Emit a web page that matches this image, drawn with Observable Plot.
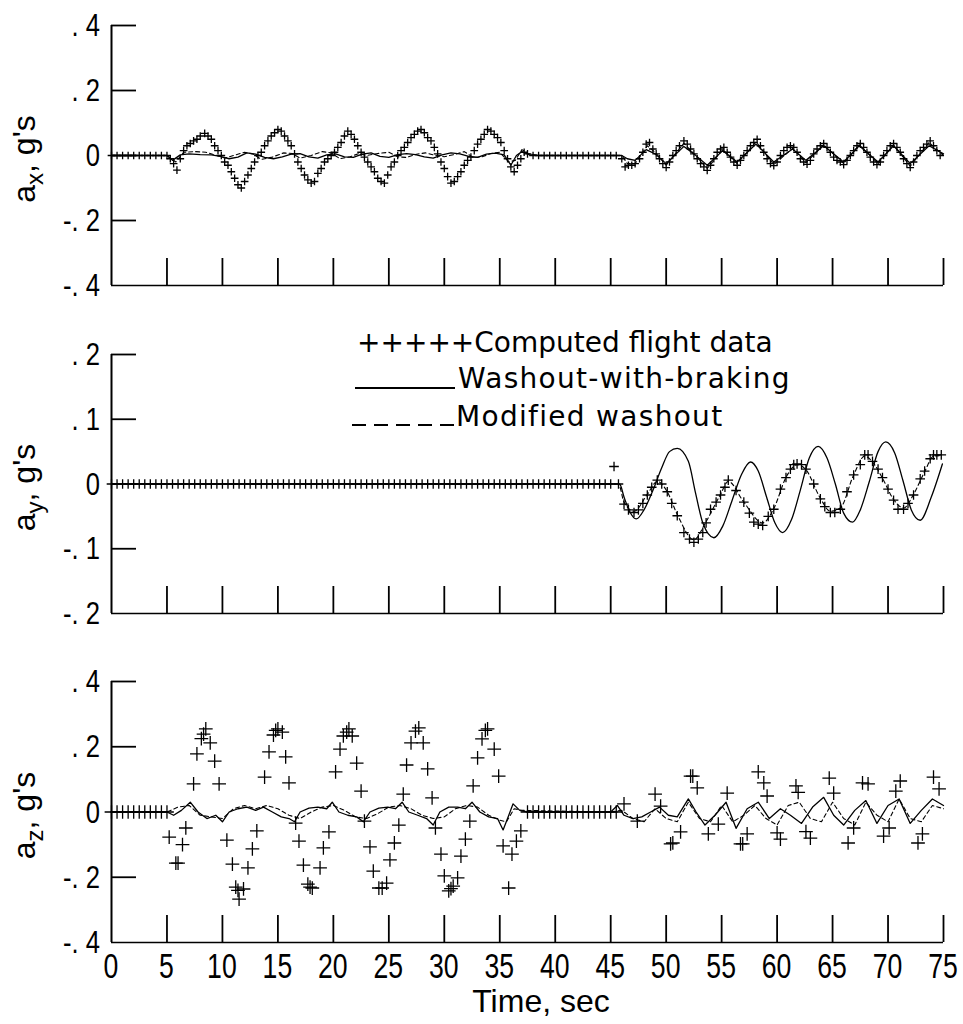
<!DOCTYPE html>
<html><head><meta charset="utf-8">
<script src="https://cdn.jsdelivr.net/npm/d3@7"></script>
<script src="https://cdn.jsdelivr.net/npm/@observablehq/plot@0.6"></script>
<style>
body{margin:0;background:#fff;}
#wrap{position:relative;width:963px;height:1024px;overflow:hidden;}
#wrap > svg{position:absolute;left:0;}
</style></head><body><div id="wrap"></div>
<script>
// ---------- axis / label data ----------
const timeTicks = [0,5,10,15,20,25,30,35,40,45,50,55,60,65,70,75];
const axTicks = [-0.4,-0.2,0,0.2,0.4];
const axTickLabels = ["-. 4","-. 2","0",". 2",". 4"];
const ayTicks = [-0.2,-0.1,0,0.1,0.2];
const ayTickLabels = ["-. 2","-. 1","0",". 1",". 2"];
const azTicks = [-0.4,-0.2,0,0.2,0.4];
const azTickLabels = ["-. 4","-. 2","0",". 2",". 4"];
const yLabelParts = [["a","x",", g's"],["a","y",", g's"],["a","z",", g's"]];
const xLabel = "Time, sec";
const legendLabels = ["+++++Computed flight data","Washout-with-braking","Modified washout"];

// ---------- a_x series [time, g] ----------
const axComputed = [[0,0],[0.5,0],[1,0],[1.5,0],[2,0],[2.5,0],[3,0],[3.5,0],[4,0],[4.5,0],[5,0],
[5.3,-0.01],[5.6,-0.025],[5.9,-0.045],[6.2,-0.01],[6.5,0.015],[6.8,0.03],[7.1,0.037],[7.4,0.045],[7.7,0.05],[8,0.06],[8.4,0.068],[8.7,0.06],[9,0.05],[9.3,0.03],[9.6,0.015],[9.9,0],[10.2,-0.02],[10.5,-0.03],[10.8,-0.05],[11.1,-0.07],[11.4,-0.09],[11.7,-0.1],[12,-0.08],[12.3,-0.06],[12.6,-0.04],[12.9,-0.02],[13.2,0],[13.5,0.01],[13.8,0.03],[14.1,0.045],[14.4,0.06],[14.7,0.07],[15,0.08],[15.3,0.075],[15.6,0.06],[15.9,0.045],[16.2,0.03],[16.5,0.005],[16.8,-0.02],[17.1,-0.04],[17.4,-0.06],[17.7,-0.075],[18,-0.085],[18.3,-0.08],[18.6,-0.055],[18.9,-0.04],[19.2,-0.02],[19.5,-0.01],[19.8,0],[20.1,0.01],[20.4,0.025],[20.7,0.04],[21,0.06],[21.3,0.075],[21.6,0.065],[21.9,0.05],[22.2,0.03],[22.5,0.01],[22.8,-0.005],[23.1,-0.02],[23.4,-0.035],[23.7,-0.05],[24,-0.07],[24.3,-0.08],[24.6,-0.085],[24.9,-0.06],[25.2,-0.035],[25.5,-0.02],[25.8,0],[26.1,0.015],[26.4,0.025],[26.7,0.04],[27,0.055],[27.3,0.065],[27.6,0.075],[27.9,0.08],[28.2,0.07],[28.5,0.055],[28.8,0.045],[29.1,0.025],[29.4,0.005],[29.7,-0.02],[30,-0.04],[30.3,-0.065],[30.6,-0.085],[30.9,-0.08],[31.2,-0.065],[31.5,-0.05],[31.8,-0.03],[32.1,-0.015],[32.4,-0.005],[32.7,0.015],[33,0.035],[33.3,0.05],[33.6,0.065],[33.9,0.08],[34.2,0.075],[34.5,0.065],[34.8,0.055],[35.1,0.04],[35.4,0.015],[35.7,-0.01],[36,-0.035],[36.3,-0.05],[36.6,-0.03],[36.9,-0.01],[37.2,0.01],[37.5,0.005],
[38,0],[38.5,0],[39,0],[39.5,0],[40,0],[40.5,0],[41,0],[41.5,0],[42,0],[42.5,0],[43,0],[43.5,0],[44,0],[44.5,0],[45,0],[45.5,0],
[46,-0.01],[46.3,-0.035],[46.6,-0.03],[46.9,-0.03],[47.2,-0.025],[47.6,-0.01],[47.9,0.01],[48.2,0.035],[48.5,0.04],[48.8,0.02],[49.1,0.005],[49.4,-0.01],[49.7,-0.025],[50,-0.037],[50.3,-0.02],[50.6,0],[50.9,0.015],[51.2,0.03],[51.6,0.045],[51.9,0.035],[52.2,0.02],[52.5,0.005],[52.8,-0.01],[53.1,-0.025],[53.4,-0.035],[53.7,-0.046],[54,-0.03],[54.3,-0.01],[54.6,0.01],[54.9,0.02],[55.2,0.025],[55.5,0.01],[55.8,-0.005],[56.1,-0.02],[56.4,-0.03],[56.7,-0.015],[57,0],[57.3,0.015],[57.6,0.03],[57.9,0.04],[58.2,0.05],[58.5,0.03],[58.8,0.01],[59.1,-0.01],[59.4,-0.025],[59.7,-0.031],[60,-0.02],[60.3,0],[60.6,0.015],[60.9,0.025],[61.2,0.03],[61.5,0.025],[61.8,0.01],[62.1,-0.01],[62.4,-0.02],[62.7,-0.027],[63,-0.015],[63.3,0.005],[63.6,0.02],[63.9,0.03],[64.2,0.037],[64.5,0.025],[64.8,0.01],[65.1,-0.005],[65.4,-0.015],[65.7,-0.02],[66,-0.028],[66.3,-0.015],[66.6,0],[66.9,0.015],[67.2,0.03],[67.5,0.037],[67.8,0.025],[68.1,0.01],[68.4,-0.005],[68.7,-0.02],[69,-0.028],[69.3,-0.02],[69.6,0],[69.9,0.015],[70.2,0.03],[70.5,0.037],[70.8,0.025],[71.1,0.01],[71.4,-0.01],[71.7,-0.025],[72,-0.037],[72.3,-0.02],[72.6,0],[72.9,0.015],[73.2,0.025],[73.5,0.035],[73.8,0.045],[74.1,0.03],[74.4,0.015],[74.7,0]];
const axBraking = [[0,0],[5,0],[5.5,-0.015],[6.2,0.002],[7,0.005],[8,0.003],[9,0.002],[9.8,-0.003],[10.6,-0.01],[11.4,-0.005],[12.2,0.008],[13,0.004],[13.8,-0.006],[14.6,-0.01],[15.4,-0.004],[16.2,0.004],[17,0.006],[17.8,-0.004],[18.6,-0.008],[19.4,0.002],[20.2,0.005],[21,-0.004],[21.8,-0.006],[22.6,0.004],[23.4,0.008],[24.2,-0.003],[25,-0.006],[25.8,0.003],[26.6,0.006],[27.4,0.003],[28.2,-0.004],[29,-0.008],[29.8,0.002],[30.6,0.008],[31.4,0.005],[32.2,-0.003],[33,-0.006],[33.8,0.004],[34.6,0.007],[35.4,0.002],[36,-0.03],[36.5,0],[37,0.012],[37.6,0.003],[38.5,0],[46,0],[46.5,-0.01],[47.2,-0.015],[48.2,0.018],[49,0.005],[50,-0.025],[51.6,0.028],[52.5,0.005],[53.7,-0.03],[55.1,0.015],[56.4,-0.02],[58.1,0.035],[59.7,-0.02],[61.4,0.02],[62.6,-0.015],[64.2,0.03],[66,-0.02],[67.4,0.03],[69.1,-0.02],[70.5,0.03],[72,-0.025],[73.7,0.03],[75,0.005]];
const axModified = [[0,0],[5,0],[5.8,-0.02],[6.5,0.01],[7.5,0.012],[8.5,0.01],[9.5,0],[10.2,-0.008],[11,0],[12,0.01],[12.8,0.004],[13.5,-0.012],[14.5,-0.005],[15.5,0.008],[16.3,0.006],[17,-0.008],[18,0],[19,0.012],[19.8,0.008],[20.6,-0.01],[21.5,-0.004],[22.3,0.006],[23,0],[24,0.006],[25,0.01],[25.8,-0.004],[26.6,-0.006],[27.5,0.004],[28.3,0.008],[29,0.002],[30,-0.004],[31,0.004],[31.8,0.012],[32.6,-0.006],[33.4,-0.004],[34.2,0.006],[35,0.01],[35.8,-0.02],[36.4,-0.015],[37,0.018],[37.6,0.005],[38.5,0],[46,0],[46.5,-0.025],[47.2,-0.025],[48.3,0.03],[49,0.01],[50,-0.03],[51.6,0.038],[52.5,0.005],[53.7,-0.04],[55.1,0.018],[56.4,-0.025],[58.1,0.042],[59.7,-0.028],[61.4,0.022],[62.6,-0.022],[64.2,0.033],[66,-0.025],[67.4,0.033],[69.1,-0.025],[70.5,0.033],[72,-0.033],[73.7,0.04],[75,0]];

// ---------- a_y series ----------
const ayComputed = [[0,0],[0.5,0],[1,0],[1.5,0],[2,0],[2.5,0],[3,0],[3.5,0],[4,0],[4.5,0],[5,0],[5.5,0],[6,0],[6.5,0],[7,0],[7.5,0],[8,0],[8.5,0],[9,0],[9.5,0],[10,0],[10.5,0],[11,0],[11.5,0],[12,0],[12.5,0],[13,0],[13.5,0],[14,0],[14.5,0],[15,0],[15.5,0],[16,0],[16.5,0],[17,0],[17.5,0],[18,0],[18.5,0],[19,0],[19.5,0],[20,0],[20.5,0],[21,0],[21.5,0],[22,0],[22.5,0],[23,0],[23.5,0],[24,0],[24.5,0],[25,0],[25.5,0],[26,0],[26.5,0],[27,0],[27.5,0],[28,0],[28.5,0],[29,0],[29.5,0],[30,0],[30.5,0],[31,0],[31.5,0],[32,0],[32.5,0],[33,0],[33.5,0],[34,0],[34.5,0],[35,0],[35.5,0],[36,0],[36.5,0],[37,0],[37.5,0],[38,0],[38.5,0],[39,0],[39.5,0],[40,0],[40.5,0],[41,0],[41.5,0],[42,0],[42.5,0],[43,0],[43.5,0],[44,0],[44.5,0],[45,0],
[45.3,0.027],[45.7,0],[46.2,-0.031],[46.6,-0.04],[47.1,-0.044],[47.5,-0.04],[47.9,-0.03],[48.3,-0.017],[48.7,-0.005],[49.2,0.006],[49.6,0],[50.1,-0.012],[50.5,-0.03],[51,-0.049],[51.6,-0.075],[52.1,-0.085],[52.5,-0.09],[52.9,-0.085],[53.3,-0.075],[53.6,-0.06],[54,-0.039],[54.5,-0.028],[54.9,-0.017],[55.3,-0.005],[55.6,0.006],[56.3,-0.01],[57,-0.028],[57.5,-0.045],[57.9,-0.059],[58.3,-0.062],[58.7,-0.064],[59.2,-0.05],[59.7,-0.039],[60.3,-0.008],[60.8,0.01],[61.2,0.023],[61.5,0.03],[61.8,0.031],[62.2,0.03],[62.6,0.023],[63.3,0],[63.9,-0.023],[64.3,-0.035],[64.8,-0.044],[65.2,-0.044],[65.7,-0.039],[66.3,-0.012],[66.9,0.014],[67.5,0.03],[67.9,0.045],[68.2,0.045],[68.6,0.035],[69.1,0.023],[69.5,0.01],[70,-0.008],[70.5,-0.025],[70.9,-0.039],[71.4,-0.039],[71.8,-0.03],[72.3,-0.017],[72.9,0.008],[73.3,0.02],[73.8,0.039],[74.1,0.045],[74.4,0.045],[74.8,0.045]];
const ayBraking = [[0,0],[45.8,0],[46.2,-0.02],[46.7,-0.042],[47.3,-0.054],[48,-0.04],[48.8,-0.01],[49.6,0.025],[50.3,0.05],[51,0.055],[52,0.035],[52.65,-0.014],[53.3,-0.06],[54.3,-0.083],[55.1,-0.065],[55.95,-0.025],[56.8,0.015],[57.6,0.034],[58.3,0.02],[59.05,-0.02],[59.8,-0.06],[60.5,-0.075],[61.3,-0.055],[62.1,-0.009],[62.9,0.04],[63.7,0.058],[64.5,0.04],[65.25,0],[66,-0.045],[66.8,-0.059],[67.5,-0.04],[68.3,0.003],[69.1,0.05],[69.8,0.065],[70.6,0.048],[71.35,0.005],[72.1,-0.04],[72.9,-0.056],[73.9,-0.02],[74.9,0.031]];
const ayModified = [[0,0],[45.7,0],[46.2,-0.028],[47.1,-0.042],[48.3,-0.016],[49.2,0.004],[50.1,-0.012],[51,-0.047],[52.5,-0.086],[53.6,-0.058],[54.9,-0.016],[55.6,0.004],[57,-0.028],[58.7,-0.06],[59.7,-0.038],[60.8,0.01],[61.8,0.03],[62.6,0.022],[63.9,-0.022],[64.8,-0.042],[65.7,-0.037],[66.9,0.014],[67.9,0.043],[68.6,0.034],[69.5,0.009],[70.5,-0.024],[71.4,-0.037],[72.3,-0.016],[73.3,0.019],[74.1,0.043],[74.8,0.044]];

// ---------- a_z series ----------
const azComputed = [[0,0],[0.5,0],[1,0],[1.5,0],[2,0],[2.5,0],[3,0],[3.5,0],[4,0],[4.5,0],[5,0],
[5.2,-0.077],[5.8,-0.157],[6,-0.157],[6.4,-0.1],[6.7,-0.049],[7.4,0.086],[7.7,0.178],[8.1,0.225],[8.3,0.239],[8.5,0.255],[8.9,0.212],[9.3,0.156],[9.7,0.086],[10.4,-0.086],[10.9,-0.16],[11.2,-0.23],[11.4,-0.24],[11.5,-0.267],[11.9,-0.236],[12.3,-0.171],[12.7,-0.113],[13.1,-0.058],[13.8,0.107],[14.2,0.184],[14.6,0.236],[14.8,0.25],[15,0.255],[15.4,0.245],[15.7,0.169],[16,0.089],[16.6,-0.034],[16.9,-0.089],[17.3,-0.163],[17.7,-0.221],[17.9,-0.23],[18.1,-0.233],[18.8,-0.171],[19.1,-0.11],[19.6,-0.061],[20.2,0.123],[20.6,0.193],[20.9,0.233],[21.2,0.245],[21.4,0.255],[21.7,0.233],[22.1,0.15],[22.5,0.064],[22.8,-0.028],[23.3,-0.107],[23.6,-0.181],[24.1,-0.233],[24.4,-0.233],[24.8,-0.218],[25.1,-0.147],[25.5,-0.095],[25.9,-0.04],[26.3,0.055],[26.6,0.144],[27,0.212],[27.4,0.248],[27.7,0.258],[28.1,0.212],[28.5,0.132],[28.9,0.043],[29.2,-0.049],[29.7,-0.129],[30,-0.196],[30.4,-0.242],[30.6,-0.235],[30.8,-0.227],[31.2,-0.202],[31.5,-0.135],[31.9,-0.083],[32.3,-0.028],[32.6,0.08],[33,0.166],[33.4,0.224],[33.7,0.25],[33.9,0.255],[34.5,0.193],[34.9,0.11],[35.3,-0.104],[35.8,-0.233],[36.1,-0.129],[36.5,-0.089],[36.9,-0.058],
[37.5,0],[38,0],[38.5,0],[39,0],[39.5,0],[40,0],[40.5,0],[41,0],[41.5,0],[42,0],[42.5,0],[43,0],[43.5,0],[44,0],[44.5,0],[45,0],[45.5,0],
[46.2,0.025],[47.4,-0.028],[49,0.055],[49.5,0.018],[50.4,-0.098],[50.6,-0.095],[51.3,-0.061],[52.2,0.11],[52.4,0.11],[52.8,0.074],[53.8,-0.067],[54.7,-0.037],[55.5,0.058],[56.7,-0.098],[56.9,-0.098],[57.3,-0.067],[58.3,0.123],[58.8,0.089],[59.1,0.049],[60,-0.064],[60.3,-0.083],[61.7,0.08],[61.9,0.06],[62.6,-0.06],[63,-0.08],[64.7,0.104],[65.1,0.058],[66.4,-0.095],[66.9,-0.049],[67.7,0.089],[68.2,0.086],[69.6,-0.074],[70.1,-0.049],[70.7,0.064],[71.1,0.095],[72.7,-0.095],[73.1,-0.067],[74.1,0.107],[74.6,0.071]];
const azBraking = [[0,0],[5,0],[5.6,-0.01],[6.3,0.005],[7.1,0.03],[7.8,0],[8.6,-0.02],[9.4,-0.01],[10,-0.03],[10.6,0],[11.4,0.01],[12.2,0.015],[13,0.005],[13.7,0.015],[14.5,0],[15.3,-0.015],[16,-0.02],[16.5,-0.03],[17,0],[17.8,0.012],[18.6,0.015],[19.4,0.01],[19.9,0.03],[20.5,0],[21.3,-0.01],[22.1,-0.015],[22.7,-0.03],[23.3,0],[24.1,0.012],[24.9,0.015],[25.6,0.01],[26.2,0.03],[26.8,0],[27.6,-0.01],[28.4,-0.02],[29,-0.04],[29.6,0],[30.4,0.015],[31.2,0.015],[31.9,0.01],[32.5,0.03],[33.2,0],[34,-0.015],[34.8,-0.02],[35.3,-0.055],[35.7,-0.02],[36.2,0.025],[36.8,0.005],[37.5,0],[45,0],[45.6,0.02],[46.2,-0.01],[47,-0.02],[47.8,-0.015],[48.6,0],[49.4,0.015],[50.2,-0.01],[51,-0.015],[52,0.04],[52.7,0],[53.5,-0.04],[54.4,-0.01],[55.4,0.03],[56.3,-0.05],[57.3,0.01],[58.3,0.03],[59.3,-0.02],[60.3,0.01],[61.2,-0.01],[62.2,-0.035],[63.2,0.015],[64.2,0.045],[65.1,-0.01],[66,-0.04],[67,0.005],[68,0.035],[69,-0.035],[70,0.02],[71,0.04],[72,-0.035],[73,0.005],[74,0.04],[75,0.02]];
const azModified = [[0,0],[5,0],[6,0.015],[7,0.02],[8,-0.01],[9,-0.015],[10,-0.02],[11,0.01],[12,0.02],[13,0.01],[14,0.02],[15,0.01],[16,-0.01],[17,-0.02],[18,0],[19,0.015],[20,0.02],[21,0.005],[22,-0.015],[23,-0.02],[24,-0.005],[25,0.015],[26,0.02],[27,0.01],[28,-0.01],[29,-0.02],[30,-0.015],[31,0.01],[32,0.02],[33,0.015],[34,-0.01],[35,-0.025],[35.6,-0.03],[36.3,0.01],[37,0.005],[45,0],[46,0.005],[47,-0.02],[48,-0.03],[49,0.01],[50,-0.02],[51,-0.03],[52,0.03],[53,-0.02],[54,-0.03],[55,0.02],[56,-0.03],[57,-0.01],[58,0.02],[59,-0.02],[60,-0.04],[61,0.02],[62,0.03],[63,-0.02],[64,-0.03],[65,0.03],[66,-0.02],[67,-0.04],[68,0.03],[69,-0.01],[70,-0.03],[71,0.04],[72,-0.02],[73,-0.03],[74,0.02],[75,0.01]];

// ---------- drawing ----------
const W = 963, ML = 111, MR = 20;
const FONT = '"Liberation Sans",Arial,sans-serif';
const LEGFONT = '"DejaVu Sans",sans-serif';
const wrap = document.getElementById("wrap");
const rows = a => a.map(([t, v]) => ({t, v}));

function makePanel(o) {
  const [y0, y1] = o.domain;
  const innerW = W - ML - MR;
  const innerH = o.height - o.mt - o.mb;
  const xTickLen = 75 * 25 / innerW;
  const yTickLen = (y1 - y0) * 27 / innerH;
  const plot = Plot.plot({
    width: W, height: o.height,
    marginLeft: ML, marginRight: MR, marginTop: o.mt, marginBottom: o.mb,
    style: {fontFamily: FONT, fontSize: "32px", color: "#000", background: "transparent", overflow: "visible"},
    x: {domain: [0, 75], axis: null},
    y: {domain: [y0, y1], axis: null},
    marks: [
      Plot.ruleY([y0], {x1: 0, x2: 75, strokeWidth: 1.6}),
      Plot.ruleX([0], {y1: y0, y2: y1, strokeWidth: 2}),
      Plot.ruleY(o.ticks.filter(t => t !== y0), {x1: 0, x2: xTickLen, strokeWidth: 1.8}),
      Plot.ruleX(timeTicks.slice(1), {y1: y0, y2: y0 + yTickLen, strokeWidth: 1.8}),
      Plot.line(rows(o.mod), {x: "t", y: "v", stroke: "#000", strokeWidth: 1.1, strokeDasharray: "4,3", curve: o.curve}),
      Plot.line(rows(o.brake), {x: "t", y: "v", stroke: "#000", strokeWidth: 1.3, curve: o.curve}),
      Plot.dot(rows(o.comp), {x: "t", y: "v", symbol: "plus", r: o.r, stroke: "#000", strokeWidth: 1.3})
    ]
  });
  plot.style.top = o.top + "px";
  wrap.appendChild(plot);
  const ys = plot.scale("y"), xs = plot.scale("x");
  const svg = d3.select(plot);

  // y tick labels (condensed lettering), positioned by Plot's y scale
  const yg = svg.append("g").attr("font-family", FONT).attr("font-size", 32).attr("text-anchor", "end").attr("fill", "#000");
  o.ticks.forEach((v, i) => {
    yg.append("text")
      .attr("transform", `translate(${ML - 11},${ys.apply(v)}) scale(0.8,1)`)
      .attr("dy", "0.35em").text(o.tickLabels[i]);
  });
  // x tick labels for the bottom panel
  if (o.showX) {
    const xg = svg.append("g").attr("font-family", FONT).attr("font-size", 36).attr("text-anchor", "middle").attr("fill", "#000");
    timeTicks.forEach(v => {
      xg.append("text")
        .attr("transform", `translate(${xs.apply(v)},${ys.apply(y0) + 10}) scale(0.74,1)`)
        .attr("dy", "0.72em").text(String(v));
    });
    svg.append("text")
      .attr("x", xs.apply(37.5) + 14).attr("y", o.height - 12)
      .attr("text-anchor", "middle")
      .attr("font-family", FONT).attr("font-size", 32).attr("fill", "#000")
      .text(xLabel);
  }
  // y-axis title with subscript
  const cy = (ys.apply(y0) + ys.apply(y1)) / 2 + 4;
  const t = svg.append("text")
    .attr("transform", `translate(35,${cy}) rotate(-90)`)
    .attr("text-anchor", "middle")
    .attr("font-family", FONT).attr("font-size", 32).attr("fill", "#000");
  t.append("tspan").text(o.ylab[0]);
  t.append("tspan").attr("dy", 8).attr("font-size", 24).text(o.ylab[1]);
  t.append("tspan").attr("dy", -8).text(o.ylab[2]);
  return plot;
}

makePanel({top: 0, height: 300, mt: 25, mb: 15, domain: [-0.4, 0.4], ticks: axTicks, tickLabels: axTickLabels,
  comp: axComputed, brake: axBraking, mod: axModified, r: 2.6, curve: "linear", ylab: yLabelParts[0], showX: false});
makePanel({top: 330, height: 298, mt: 24, mb: 15, domain: [-0.2, 0.2], ticks: ayTicks, tickLabels: ayTickLabels,
  comp: ayComputed, brake: ayBraking, mod: ayModified, r: 3.2, curve: "monotone-x", ylab: yLabelParts[1], showX: false});
makePanel({top: 650, height: 374, mt: 31, mb: 82, domain: [-0.4, 0.4], ticks: azTicks, tickLabels: azTickLabels,
  comp: azComputed, brake: azBraking, mod: azModified, r: 4.5, curve: "linear", ylab: yLabelParts[2], showX: true});

// ---------- legend ----------
const leg = d3.select(wrap).append("svg")
  .attr("width", W).attr("height", 1024).style("top", "0px").style("pointer-events", "none");
const lg = leg.append("g").attr("font-family", LEGFONT).attr("font-size", 28).attr("letter-spacing", 1.3).attr("fill", "#000");
lg.append("text").attr("x", 357).attr("y", 352).attr("letter-spacing", 0).text(legendLabels[0]);
lg.append("line").attr("x1", 355).attr("x2", 455).attr("y1", 388).attr("y2", 388).attr("stroke", "#000").attr("stroke-width", 2);
lg.append("text").attr("x", 458).attr("y", 388).text(legendLabels[1]);
lg.append("line").attr("x1", 352).attr("x2", 455).attr("y1", 425).attr("y2", 425).attr("stroke", "#000").attr("stroke-width", 1.8).attr("stroke-dasharray", "14,8");
lg.append("text").attr("x", 456).attr("y", 426).text(legendLabels[2]);
</script></body></html>
